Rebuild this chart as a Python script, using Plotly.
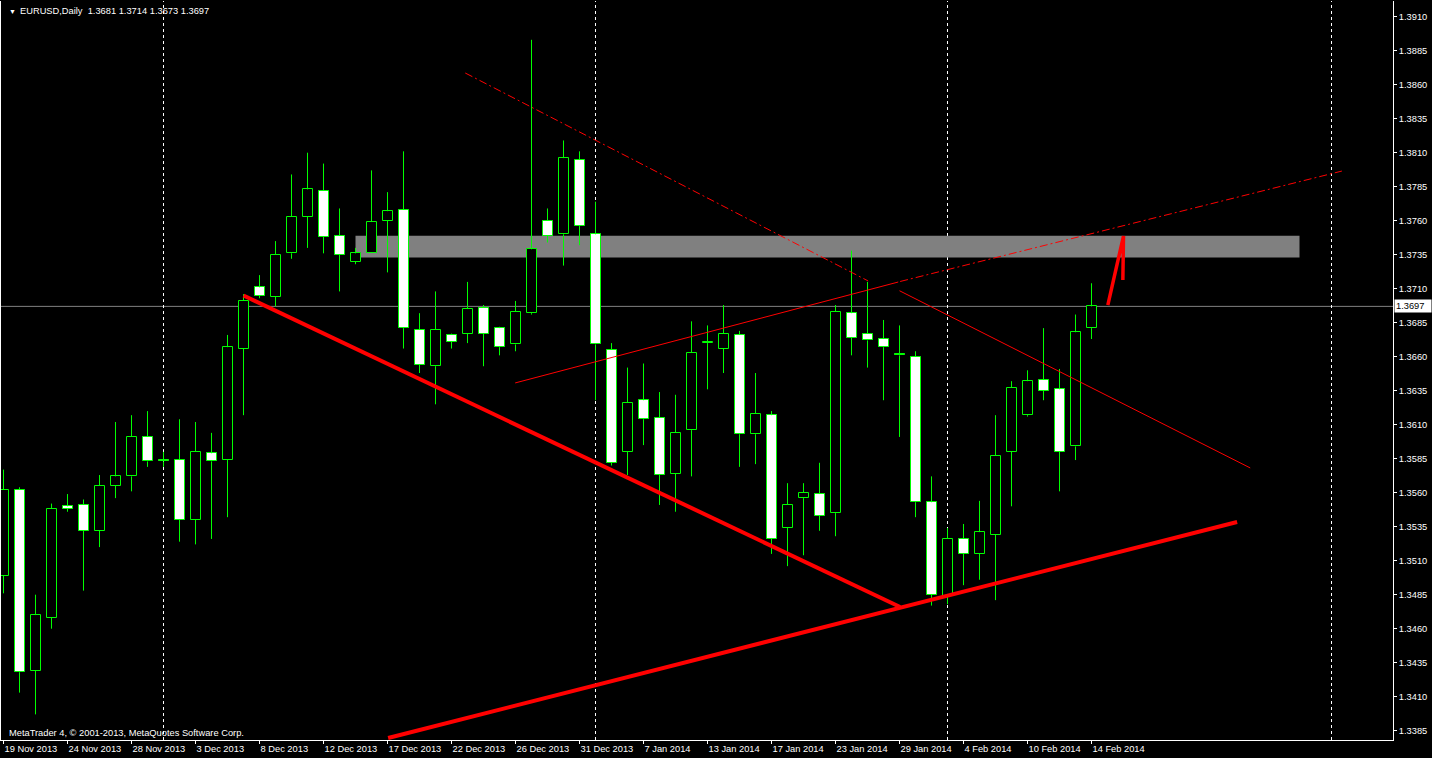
import plotly.graph_objects as go

# ---------------- data (EURUSD daily) ----------------
bar_index = list(range(69))
opens = [1.3499, 1.3562, 1.3429, 1.3468, 1.3550, 1.3551, 1.3532, 1.3565, 1.3572, 1.3601,
         1.3584, 1.3584, 1.3540, 1.3589, 1.3584, 1.3666, 1.3711, 1.3704, 1.3736, 1.3763,
         1.3782, 1.3749, 1.3730, 1.3736, 1.3760, 1.3768, 1.3680, 1.3653, 1.3676, 1.3677,
         1.3696, 1.3681, 1.3669, 1.3692, 1.3760, 1.3750, 1.3805, 1.3750, 1.3665, 1.3590,
         1.3628, 1.3615, 1.3574, 1.3606, 1.3670, 1.3666, 1.3676, 1.3603, 1.3617, 1.3534,
         1.3556, 1.3559, 1.3545, 1.3692, 1.3677, 1.3673, 1.3662, 1.3660, 1.3553, 1.3484,
         1.3526, 1.3515, 1.3529, 1.3590, 1.3617, 1.3643, 1.3636, 1.3594, 1.3681]
highs = [1.3577, 1.3564, 1.3485, 1.3552, 1.3559, 1.3555, 1.3573, 1.3612, 1.3617, 1.3620,
         1.3590, 1.3614, 1.3612, 1.3604, 1.3676, 1.3706, 1.3720, 1.3745, 1.3794, 1.3810,
         1.3802, 1.3769, 1.3740, 1.3797, 1.3781, 1.3811, 1.3692, 1.3708, 1.3677, 1.3715,
         1.3698, 1.3682, 1.3701, 1.3893, 1.3769, 1.3819, 1.3811, 1.3774, 1.3670, 1.3652,
         1.3655, 1.3634, 1.3632, 1.3686, 1.3683, 1.3698, 1.3679, 1.3648, 1.3620, 1.3567,
         1.3567, 1.3582, 1.3698, 1.3738, 1.3715, 1.3687, 1.3683, 1.3664, 1.3572, 1.3534,
         1.3537, 1.3554, 1.3617, 1.3642, 1.3650, 1.3681, 1.3651, 1.3691, 1.3714]
lows = [1.3486, 1.3413, 1.3397, 1.3460, 1.3546, 1.3488, 1.3520, 1.3556, 1.3561, 1.3579,
        1.3579, 1.3524, 1.3522, 1.3526, 1.3542, 1.3617, 1.3703, 1.3697, 1.3732, 1.3740,
        1.3736, 1.3708, 1.3728, 1.3736, 1.3722, 1.3666, 1.3648, 1.3625, 1.3666, 1.3670,
        1.3653, 1.3661, 1.3664, 1.3691, 1.3744, 1.3727, 1.3742, 1.3628, 1.3580, 1.3573,
        1.3595, 1.3551, 1.3546, 1.3572, 1.3636, 1.3648, 1.3579, 1.3581, 1.3515, 1.3506,
        1.3514, 1.3532, 1.3528, 1.3661, 1.3652, 1.3628, 1.3601, 1.3542, 1.3477, 1.3478,
        1.3492, 1.3496, 1.3481, 1.3550, 1.3616, 1.3628, 1.3561, 1.3584, 1.3673]
closes = [1.3562, 1.3428, 1.3470, 1.3548, 1.3548, 1.3532, 1.3565, 1.3572, 1.3601, 1.3583,
          1.3583, 1.3540, 1.3590, 1.3583, 1.3667, 1.3701, 1.3705, 1.3735, 1.3763, 1.3783,
          1.3748, 1.3735, 1.3736, 1.3759, 1.3767, 1.3681, 1.3654, 1.3680, 1.3671, 1.3695,
          1.3677, 1.3667, 1.3693, 1.3739, 1.3749, 1.3806, 1.3756, 1.3669, 1.3582, 1.3626,
          1.3614, 1.3573, 1.3604, 1.3663, 1.3671, 1.3677, 1.3603, 1.3618, 1.3526, 1.3551,
          1.3560, 1.3543, 1.3693, 1.3674, 1.3672, 1.3667, 1.3661, 1.3553, 1.3485, 1.3526,
          1.3515, 1.3531, 1.3587, 1.3637, 1.3642, 1.3635, 1.3590, 1.3678, 1.3697]

date_tick_bars = [0, 4, 8, 12, 16, 20, 24, 28, 32, 36, 40, 44, 48, 52, 56, 60, 64, 68]
date_tick_labels = ["19 Nov 2013", "24 Nov 2013", "28 Nov 2013", "3 Dec 2013", "8 Dec 2013",
                    "12 Dec 2013", "17 Dec 2013", "22 Dec 2013", "26 Dec 2013", "31 Dec 2013",
                    "7 Jan 2014", "13 Jan 2014", "17 Jan 2014", "23 Jan 2014", "29 Jan 2014",
                    "4 Feb 2014", "10 Feb 2014", "14 Feb 2014"]
price_tick_labels = ["1.3385", "1.3410", "1.3435", "1.3460", "1.3485", "1.3510", "1.3535",
                     "1.3560", "1.3585", "1.3610", "1.3635", "1.3660", "1.3685", "1.3710",
                     "1.3735", "1.3760", "1.3785", "1.3810", "1.3835", "1.3860", "1.3885", "1.3910"]
price_tick_values = [float(s) for s in price_tick_labels]

month_separator_bars = [10, 37, 59, 83]
last_price = 1.3697

zone_bars = [22, 81]
zone_prices = [1.3733, 1.3749]

# drawn objects: (bar positions, prices)
falling_thick_bars, falling_thick_prices = [15.0, 56.04], [1.3705, 1.3476]
rising_thick_bars, rising_thick_prices = [24.04, 77.1], [1.33796, 1.35385]
rising_thin_bars, rising_thin_prices = [31.98, 55.92], [1.36407, 1.37149]
rising_dashdot_bars, rising_dashdot_prices = [56.04, 83.65], [1.37153, 1.37965]
falling_dashdot_bars, falling_dashdot_prices = [28.86, 54.04], [1.38686, 1.37157]
falling_thin_bars, falling_thin_prices = [56.0, 77.92], [1.37085, 1.35782]
arrow_bars, arrow_prices = [69.02, 70.0, 69.96], [1.3698, 1.37487, 1.37164]

# ---------------- styling ----------------
GREEN = "#00ff00"
RED = "#ff0000"
FONT = "Tahoma, 'Liberation Sans', Arial, sans-serif"
FS = 9.3
X_RANGE = [-0.15625, 86.84375]
Y_RANGE = [1.337816, 1.392154]

fig = go.Figure()

# wicks (split around the body)
wx, wy = [], []
for i, o, h, l, c in zip(bar_index, opens, highs, lows, closes):
    top, bot = max(o, c), min(o, c)
    wx += [i, i, None, i, i, None]
    wy += [h, top, None, bot, l, None]
fig.add_trace(go.Scatter(x=wx, y=wy, mode="lines", line=dict(color=GREEN, width=1),
                         hoverinfo="skip", showlegend=False))

# bodies
fig.add_trace(go.Bar(
    x=bar_index,
    base=[min(o, c) for o, c in zip(opens, closes)],
    y=[abs(c - o) for o, c in zip(opens, closes)],
    width=0.625,
    marker=dict(color=["#000000" if c >= o else "#ffffff" for o, c in zip(opens, closes)],
                line=dict(color=GREEN, width=1)),
    hoverinfo="skip", showlegend=False))

def add_line(xs, ys, width, dash="solid"):
    fig.add_trace(go.Scatter(x=xs, y=ys, mode="lines",
                             line=dict(color=RED, width=width, dash=dash),
                             hoverinfo="skip", showlegend=False))

add_line(falling_thick_bars, falling_thick_prices, 4)
add_line(rising_thick_bars, rising_thick_prices, 4)
add_line(rising_thin_bars, rising_thin_prices, 1)
add_line(rising_dashdot_bars, rising_dashdot_prices, 1, "8px,3px,2px,3px")
add_line(falling_dashdot_bars, falling_dashdot_prices, 1, "8px,3px,2px,3px")
add_line(falling_thin_bars, falling_thin_prices, 1)
add_line(arrow_bars, arrow_prices, 3.5)

shapes = [dict(type="rect", xref="x", yref="y", x0=zone_bars[0], x1=zone_bars[1],
               y0=zone_prices[0], y1=zone_prices[1], fillcolor="#808080",
               line=dict(width=0), layer="below"),
          dict(type="line", xref="paper", yref="y", x0=0, x1=1, y0=last_price, y1=last_price,
               line=dict(color="#808080", width=1), layer="below")]
for b in month_separator_bars:
    shapes.append(dict(type="line", xref="x", yref="paper", x0=b, x1=b, y0=0, y1=1,
                       line=dict(color="#ffffff", width=1, dash="3px,3px"), layer="below"))

PLOT_H = 739
annotations = [
    dict(text="▼", xref="paper", yref="paper", x=6 / 1392, y=1 - 10 / PLOT_H,
         xanchor="left", yanchor="middle", showarrow=False,
         font=dict(family=FONT, size=7, color="#ffffff")),
    dict(text=f"EURUSD,Daily  {opens[-1]:.4f} {highs[-1]:.4f} {lows[-1]:.4f} {closes[-1]:.4f}",
         xref="paper", yref="paper", x=17 / 1392, y=1 - 10 / PLOT_H,
         xanchor="left", yanchor="middle", showarrow=False,
         font=dict(family=FONT, size=FS, color="#ffffff")),
    dict(text="MetaTrader 4, © 2001-2013, MetaQuotes Software Corp.",
         xref="paper", yref="paper", x=6 / 1392, y=1 - 732 / PLOT_H,
         xanchor="left", yanchor="middle", showarrow=False,
         font=dict(family=FONT, size=FS, color="#ffffff")),
    dict(text=f"{last_price:.4f}", xref="paper", yref="y", x=1, y=last_price,
         xanchor="left", yanchor="middle", xshift=1, showarrow=False,
         bgcolor="#ffffff", borderpad=1, width=34, align="left",
         font=dict(family=FONT, size=FS, color="#000000")),
]

fig.update_layout(
    width=1432, height=758,
    margin=dict(l=1, r=39, t=1, b=18, autoexpand=False),
    paper_bgcolor="#000000", plot_bgcolor="#000000",
    shapes=shapes, annotations=annotations,
    showlegend=False, bargap=0,
    xaxis=dict(range=X_RANGE, tickmode="array", tickvals=date_tick_bars, ticktext=date_tick_labels,
               ticks="outside", ticklen=3, tickcolor="#ffffff", tickwidth=1,
               ticklabelposition="outside right", automargin=False,
               showline=True, linecolor="#ffffff", linewidth=1, mirror=False,
               showgrid=False, zeroline=False,
               tickfont=dict(family=FONT, size=FS, color="#ffffff"), fixedrange=True),
    yaxis=dict(range=Y_RANGE, side="right", tickmode="array", tickvals=price_tick_values,
               ticktext=price_tick_labels, automargin=False,
               ticks="outside", ticklen=3, tickcolor="#ffffff", tickwidth=1,
               showline=True, linecolor="#ffffff", linewidth=1, mirror=True,
               showgrid=False, zeroline=False,
               tickfont=dict(family=FONT, size=FS, color="#ffffff"), fixedrange=True),
)

fig.write_html(
    "out.html",
    config={"displayModeBar": False},
    post_script="document.body.style.margin='0';document.body.style.background='#000';"
                "document.documentElement.style.overflow='hidden';",
)
